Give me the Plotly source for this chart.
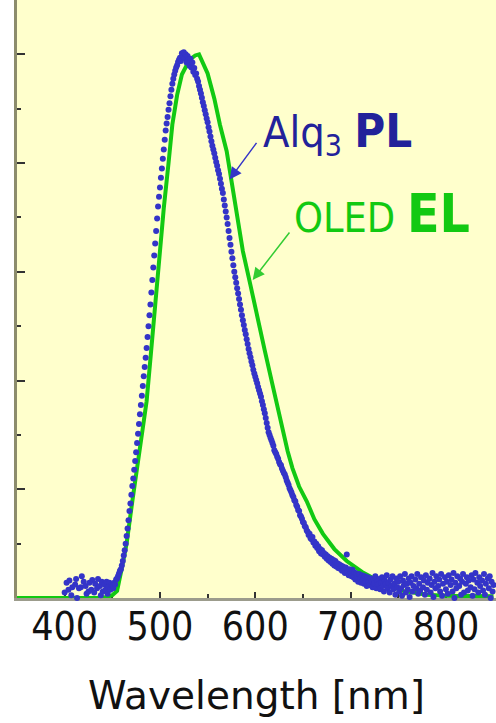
import plotly.graph_objects as go

# ---------------- data ----------------
# OLED electroluminescence (solid green line)
el_nm = [350, 400, 440, 450, 455, 460, 465, 471, 478, 486, 490, 494, 499, 504, 509,
         513, 518, 523, 531, 537, 541, 545, 550, 557, 563, 570, 578, 587, 595, 602,
         610, 618, 626, 634, 639, 646, 654, 662, 671, 683, 696, 712, 730, 755, 780,
         800, 850]
el_val = [0.0, 0.0, 0.0, 0.005, 0.013, 0.055, 0.10, 0.178, 0.26, 0.362, 0.44, 0.522,
          0.62, 0.717, 0.80, 0.871, 0.925, 0.963, 0.99, 0.998, 1.0, 0.985, 0.965,
          0.919, 0.87, 0.822, 0.73, 0.638, 0.575, 0.515, 0.455, 0.393, 0.33, 0.27,
          0.239, 0.205, 0.178, 0.145, 0.118, 0.09, 0.068, 0.048, 0.031, 0.013, 0.006,
          0.004, 0.003]

# Alq3 photoluminescence (blue dots), sampled every 1 nm from 400 to 850
pl_nm = list(range(400, 851))
pl_val = [
    # 400-449
    0.010, -0.018, 0.028, -0.008, 0.015, 0.032, -0.030, 0.005, 0.020, -0.012,
    -0.035, 0.025, 0.035, 0.000, -0.022, 0.018, -0.028, 0.020, 0.040, -0.005,
    0.030, -0.015, 0.022, 0.008, -0.040, 0.012, 0.028, -0.010, 0.015, 0.033,
    -0.020, 0.010, 0.026, -0.006, 0.018, 0.035, -0.012, 0.022, 0.005, 0.030,
    0.012, -0.008, 0.025, 0.015, 0.030, 0.008, 0.020, 0.028, 0.015, 0.024,
    # 450-519
    0.022, 0.018, 0.028, 0.025, 0.034, 0.036, 0.040, 0.045, 0.050, 0.053,
    0.060, 0.068, 0.078, 0.088, 0.100, 0.114, 0.128, 0.143, 0.160, 0.174,
    0.190, 0.206, 0.220, 0.236, 0.252, 0.268, 0.285, 0.302, 0.320, 0.338,
    0.355, 0.372, 0.390, 0.408, 0.425, 0.442, 0.460, 0.480, 0.500, 0.520,
    0.540, 0.562, 0.585, 0.608, 0.630, 0.652, 0.675, 0.698, 0.720, 0.738,
    0.755, 0.773, 0.790, 0.808, 0.825, 0.843, 0.860, 0.873, 0.885, 0.898,
    0.910, 0.923, 0.935, 0.946, 0.955, 0.963, 0.970, 0.976, 0.980, 0.986,
    # 520-619
    0.990, 0.994, 0.988, 1.002, 0.996, 1.004, 0.993, 1.000, 0.985, 0.997,
    0.990, 0.979, 0.992, 0.976, 0.985, 0.968, 0.975, 0.962, 0.965, 0.955,
    0.950, 0.942, 0.935, 0.928, 0.920, 0.912, 0.905, 0.897, 0.890, 0.882,
    0.875, 0.866, 0.858, 0.849, 0.840, 0.832, 0.825, 0.818, 0.810, 0.802,
    0.795, 0.787, 0.780, 0.771, 0.762, 0.753, 0.745, 0.733, 0.722, 0.711,
    0.700, 0.688, 0.675, 0.662, 0.650, 0.637, 0.625, 0.612, 0.600, 0.590,
    0.580, 0.570, 0.560, 0.550, 0.540, 0.530, 0.520, 0.511, 0.502, 0.493,
    0.485, 0.476, 0.467, 0.458, 0.450, 0.443, 0.435, 0.428, 0.420, 0.413,
    0.407, 0.401, 0.395, 0.388, 0.382, 0.376, 0.370, 0.362, 0.355, 0.347,
    0.340, 0.331, 0.322, 0.313, 0.305, 0.300, 0.295, 0.290, 0.285, 0.280,
    # 620-699
    0.272, 0.268, 0.265, 0.260, 0.256, 0.250, 0.246, 0.244, 0.238, 0.234,
    0.230, 0.227, 0.222, 0.216, 0.212, 0.208, 0.202, 0.198, 0.194, 0.189,
    0.186, 0.180, 0.178, 0.171, 0.168, 0.162, 0.160, 0.152, 0.150, 0.146,
    0.140, 0.138, 0.132, 0.130, 0.124, 0.122, 0.116, 0.118, 0.110, 0.108,
    0.112, 0.102, 0.104, 0.096, 0.100, 0.092, 0.095, 0.086, 0.090, 0.082,
    0.088, 0.080, 0.083, 0.076, 0.080, 0.072, 0.077, 0.069, 0.074, 0.066,
    0.072, 0.063, 0.070, 0.060, 0.068, 0.058, 0.064, 0.055, 0.062, 0.054,
    0.060, 0.050, 0.058, 0.052, 0.046, 0.056, 0.080, 0.048, 0.042, 0.053,
    # 700-799
    0.046, 0.040, 0.052, 0.038, 0.047, 0.034, 0.045, 0.040, 0.030, 0.044,
    0.036, 0.028, 0.042, 0.033, 0.026, 0.040, 0.030, 0.022, 0.038, 0.029,
    0.024, 0.036, 0.031, 0.020, 0.034, 0.026, 0.040, 0.018, 0.030, 0.025,
    0.035, 0.016, 0.028, 0.038, 0.022, 0.012, 0.032, 0.026, 0.042, 0.018,
    0.028, 0.010, 0.034, 0.022, 0.040, 0.016, 0.026, 0.006, 0.036, 0.020,
    0.030, 0.012, 0.040, 0.018, 0.004, 0.032, 0.024, 0.044, 0.010, 0.026,
    0.016, 0.036, 0.002, 0.028, 0.040, 0.012, 0.022, -0.004, 0.034, 0.018,
    0.044, 0.008, 0.026, 0.014, 0.038, -0.008, 0.020, 0.032, 0.006, 0.042,
    0.015, 0.028, -0.012, 0.036, 0.010, 0.024, 0.046, 0.002, 0.030, 0.018,
    0.040, -0.006, 0.022, 0.034, 0.012, 0.044, 0.004, 0.026, -0.014, 0.038,
    # 800-850
    0.016, 0.030, 0.008, 0.042, -0.010, 0.024, 0.034, 0.012, 0.046, 0.000,
    0.028, 0.018, 0.040, -0.016, 0.022, 0.036, 0.006, 0.030, 0.044, 0.010,
    -0.008, 0.026, 0.038, 0.014, 0.032, -0.020, 0.020, 0.042, 0.004, 0.034,
    0.016, 0.046, -0.004, 0.028, 0.010, 0.038, 0.022, -0.012, 0.032, 0.014,
    0.044, 0.006, 0.026, -0.016, 0.036, 0.018, 0.040, 0.000, 0.030, 0.012,
    0.024,
]

x_ticks = [400, 500, 600, 700, 800]
x_minor = [450, 550, 650, 750]
y_major = [0.2, 0.4, 0.6, 0.8, 1.0]
y_minor = [0.1, 0.3, 0.5, 0.7, 0.9]

FONT = "DejaVu Sans Condensed, DejaVu Sans, sans-serif"
TITLE_FONT = "DejaVu Sans, sans-serif"
GREEN = "#12C912"
BLUE = "#3434C8"

fig = go.Figure()
fig.add_trace(go.Scatter(x=el_nm, y=el_val, mode="lines",
                         line=dict(color=GREEN, width=4), cliponaxis=False,
                         showlegend=False, hoverinfo="skip"))
fig.add_trace(go.Scatter(x=pl_nm, y=pl_val, mode="markers",
                         marker=dict(color=BLUE, size=6, symbol="circle", line=dict(width=0)),
                         cliponaxis=False, showlegend=False, hoverinfo="skip"))

XR = [350, 852.6]
YR = [0, 1.1]
tick_common = dict(ticks="inside", tickcolor="#333333", tickwidth=1.5,
                   showgrid=False, zeroline=False)

fig.update_layout(
    width=496, height=723,
    margin=dict(l=17, r=0, t=0, b=125),
    paper_bgcolor="white", plot_bgcolor="#FFFFCC",
    font=dict(family=FONT, color="#111111"),
    xaxis=dict(range=XR, tickvals=x_ticks, ticktext=[str(v) for v in x_ticks],
               ticklen=6, showline=True, linecolor="#9C9C8C", linewidth=3,
               layer="below traces",
               tickfont=dict(size=39, family=FONT, color="#111111"),
               ticklabelstandoff=-8,
               minor=dict(tickvals=x_minor, ticklen=4, ticks="inside", tickcolor="#333333"),
               title=dict(text="Wavelength [nm]", font=dict(size=39, family=TITLE_FONT, color="#111111"),
                          standoff=34),
               **tick_common),
    xaxis2=dict(range=XR, overlaying="x", side="top", anchor="y", tickvals=x_ticks,
                ticklen=6, showticklabels=False, showline=False,
                minor=dict(tickvals=x_minor, ticklen=4, ticks="inside", tickcolor="#333333"),
                **tick_common),
    yaxis=dict(range=YR, tickvals=y_major, ticklen=8, showticklabels=False,
               showline=True, linecolor="#8C8C6C", linewidth=3, layer="below traces",
               minor=dict(tickvals=y_minor, ticklen=4, ticks="inside", tickcolor="#333333"),
               **tick_common),
    yaxis2=dict(range=YR, overlaying="y", side="right", anchor="x", tickvals=y_major,
                ticklen=8, showticklabels=False, showline=False,
                minor=dict(tickvals=y_minor, ticklen=4, ticks="inside", tickcolor="#333333"),
                **tick_common),
)

# arrows
fig.add_annotation(x=573.1, y=0.770, ax=602.5, ay=0.840, axref="x", ayref="y",
                   text="", showarrow=True, arrowhead=2, arrowsize=1.6, arrowwidth=1.5,
                   arrowcolor=BLUE, standoff=0, startstandoff=0)
fig.add_annotation(x=597.3, y=0.585, ax=637.1, ay=0.675, axref="x", ayref="y",
                   text="", showarrow=True, arrowhead=2, arrowsize=1.6, arrowwidth=1.5,
                   arrowcolor="#33CC33", standoff=0, startstandoff=0)

# labels
fig.add_annotation(x=606.0, y=0.855, xanchor="left", yanchor="middle", showarrow=False,
                   text="Alq<sub>3</sub> <span style='font-size:47px'><b>PL</b></span>",
                   font=dict(size=43, family=FONT, color="#22229A"))
fig.add_annotation(x=639.0, y=0.708, xanchor="left", yanchor="middle", showarrow=False,
                   text="OLED <span style='font-size:53px'><b>EL</b></span>",
                   font=dict(size=41, family=FONT, color=GREEN))

fig.write_html("out.html")
